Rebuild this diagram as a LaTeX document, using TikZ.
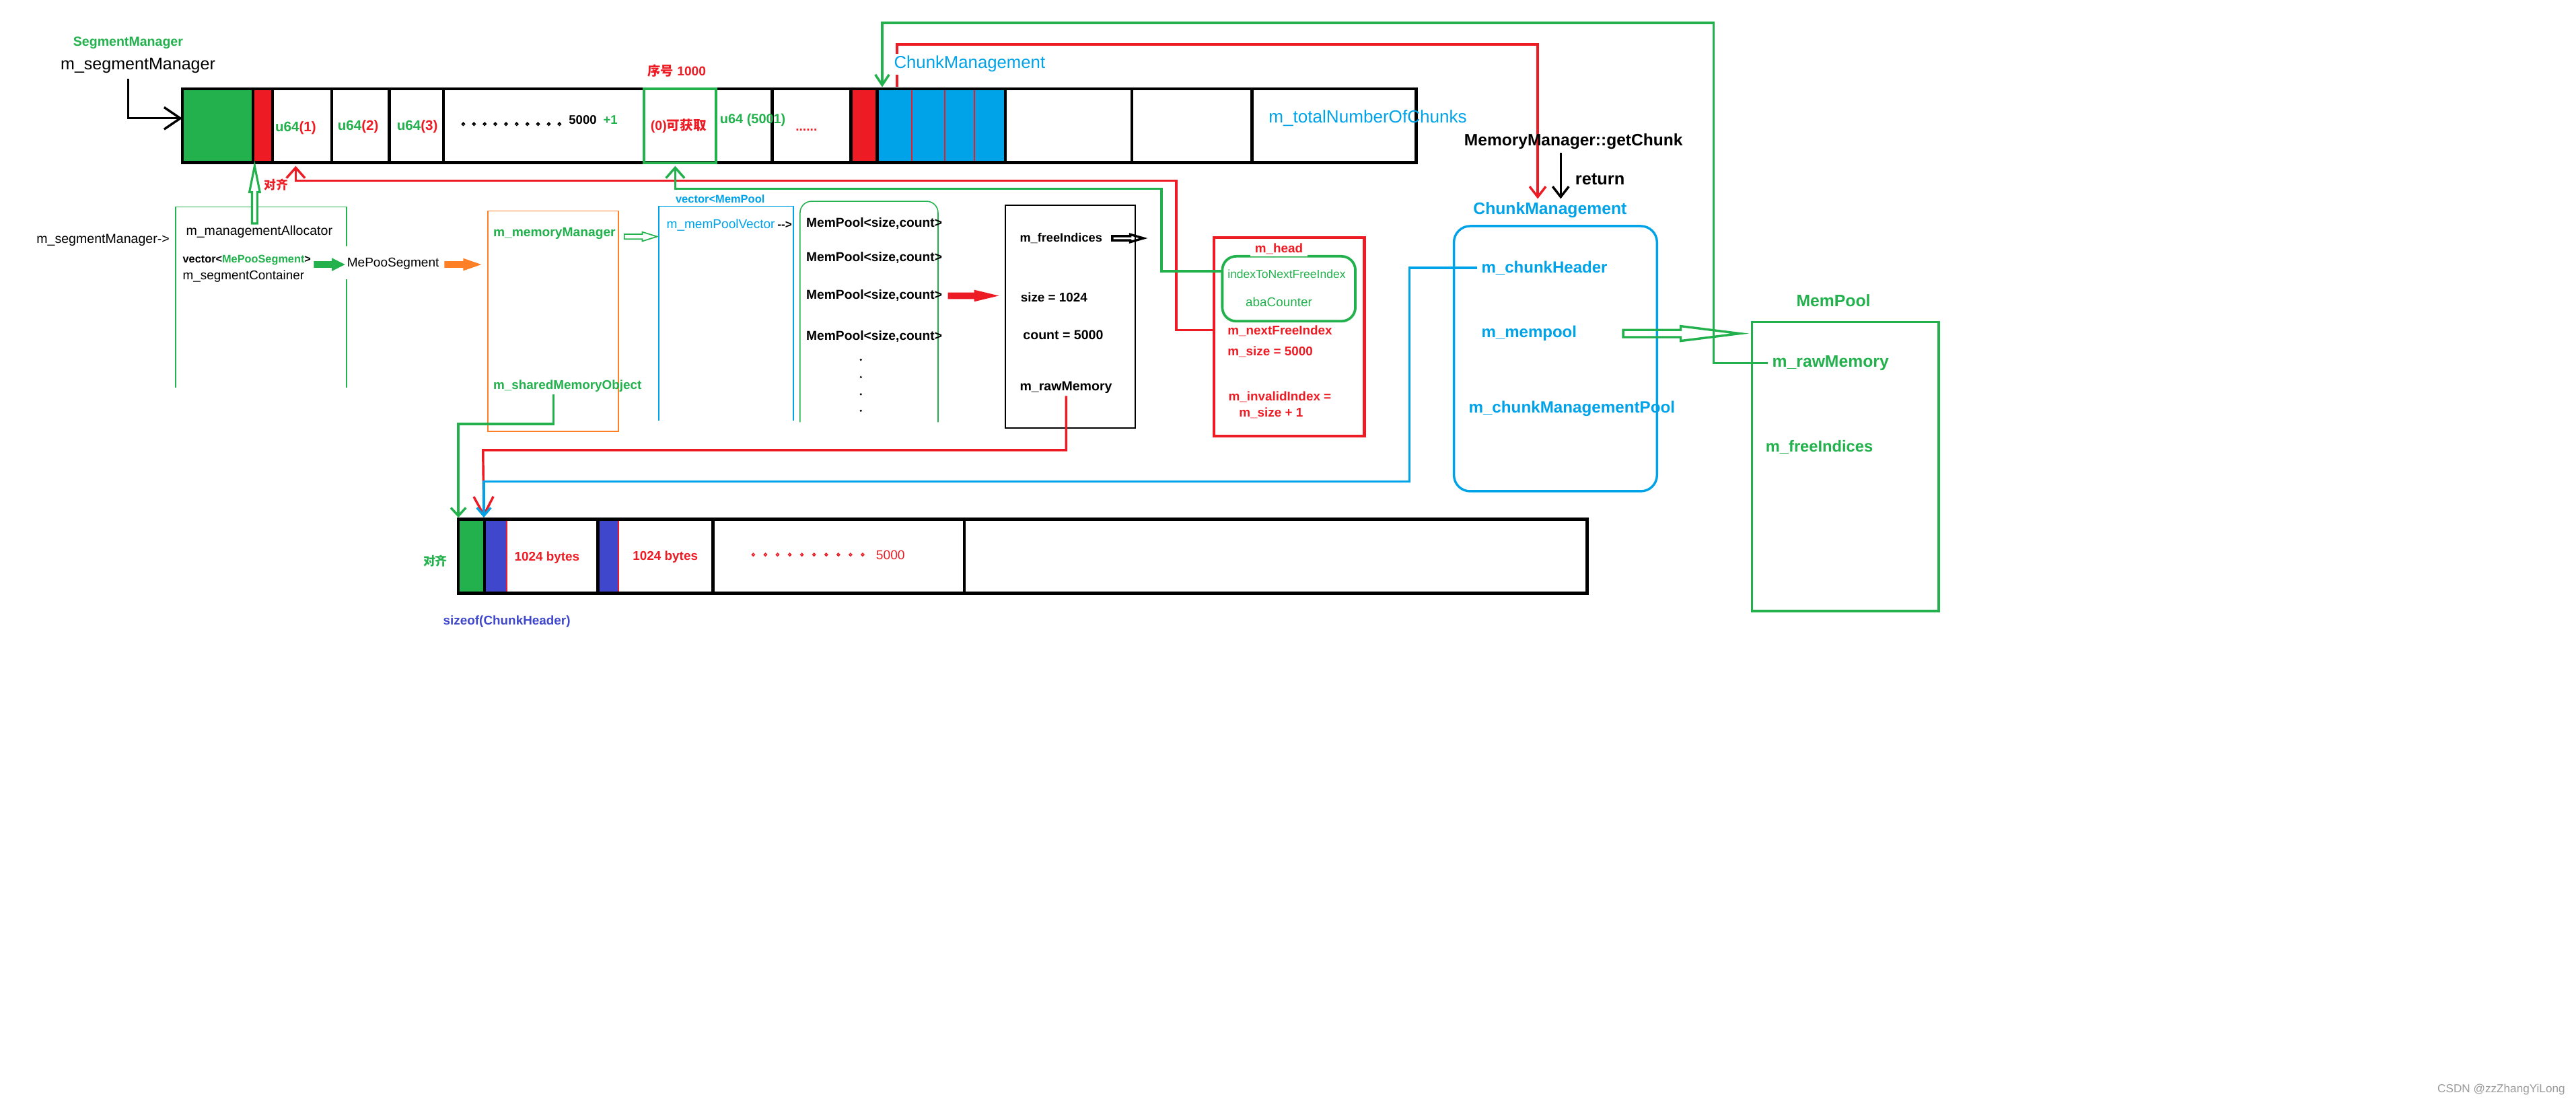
\documentclass[tikz,border=0pt]{standalone}
\usepackage{fontspec}
\setmainfont{Liberation Sans}
\newfontfamily\cjk{Noto Sans CJK SC}
\usetikzlibrary{arrows.meta}
\definecolor{grn}{HTML}{22B14C}
\definecolor{rd}{HTML}{ED1C24}
\definecolor{blu}{HTML}{00A2E8}
\definecolor{org}{HTML}{FF7F27}
\definecolor{ind}{HTML}{3F48CC}
\definecolor{wm}{HTML}{9A9A9A}
\tikzset{
  txt/.style={inner sep=0pt, font=\fontsize{#1}{#1}\selectfont},
  btxt/.style={inner sep=0pt, font=\fontsize{#1}{#1}\selectfont\bfseries},
  bar/.style={line width=1.3pt},
  conn/.style={line width=1pt},
  thinbox/.style={line width=.45pt},
  pics/fatarrow/.style args={#1/#2/#3/#4}{code={
    \path[pic actions] (0,-#2) -- ({#1-#4},-#2) -- ({#1-#4},-#3) -- (#1,0)
      -- ({#1-#4},#3) -- ({#1-#4},#2) -- (0,#2) -- cycle;}},
}
\begin{document}
\begin{tikzpicture}[x=0.025cm, y=-0.025cm]
  \fill[white] (0,0) rectangle (1568,671);
  \useasboundingbox (0,0) rectangle (1568,671);

  \fill[grn] (111,54) rectangle (154,99);
  \fill[rd] (154,54) rectangle (166,99);
  \fill[rd] (518,54) rectangle (534,99);
  \fill[blu] (534,54) rectangle (612,99);
  \foreach \x in {555,575,593} \draw[rd, line width=.5pt] (\x,54) -- (\x,100);
  \foreach \x in {154,166,202,237,270,470,518,534,612,689,762} \draw[bar] (\x,54) -- (\x,99);
  \draw[bar] (111,54) rectangle (862,99);
  \draw[grn, line width=1.2pt] (392,54) rectangle (436,99);

  \coordinate (barL) at (111,72);
  \coordinate (segS) at (78,48);
  \coordinate (c1) at (180,101);
  \coordinate (cfree) at (411,101);
  \coordinate (ccm) at (537,53);
  \coordinate (ccmr) at (546,53);
  \coordinate (cmtip) at (936,121);
  \coordinate (gcS) at (950,93);
  \coordinate (gcE) at (950,121);
  \coordinate (rawS) at (649,241);
  \coordinate (shmS) at (337,240);
  \coordinate (hdrL) at (739,201);
  \coordinate (bstart) at (279,315);
  \coordinate (bhdr) at (294.5,315);

  \draw[grn, thinbox] (107,236) -- (107,126) -- (211,126) -- (211,150) (211,170) -- (211,236);
  \draw[org, thinbox] (297,128.5) rectangle (376.5,262.5);
  \draw[blu, thinbox] (401,256) -- (401,125.5) -- (483,125.5) -- (483,256);
  \draw[grn, thinbox, rounded corners=5pt] (487,257) -- (487,122.5) -- (571,122.5) -- (571,257);
  \draw[thinbox] (612,125) rectangle (691,260.5);
  \draw[rd, line width=1.2pt] (739,144.6) rectangle (830.5,265.5);
  \draw[grn, line width=1.1pt, rounded corners=6pt] (744,156) rectangle (825,195.5);
  \draw[blu, line width=1pt, rounded corners=7pt] (885,137.6) rectangle (1008.6,299);
  \draw[grn, line width=1pt] (1066.5,196) rectangle (1180,372);

  \fill[grn] (279,316) rectangle (295,361);
  \fill[ind] (295,316) rectangle (308.5,361);
  \fill[ind] (364,316) rectangle (376.5,361);
  \foreach \x in {308.5,376.5} \draw[rd, line width=.5pt] (\x,316) -- (\x,361);
  \foreach \x in {295,364,434,587} \draw[bar] (\x,316) -- (\x,361);
  \draw[bar] (279,316) rectangle (966,361);

  \node[btxt=5.7, grn] (segtype) at (78,26) {SegmentManager};
  \node[txt=7.3] (segmgr) at (84,40) {m\_segmentManager};
  \node[btxt=6] (u1) at (180,78) {\textcolor{grn}{u64}\textcolor{rd}{(1)}};
  \node[btxt=6] (u2) at (218,77) {\textcolor{grn}{u64}\textcolor{rd}{(2)}};
  \node[btxt=6] (u3) at (254,77) {\textcolor{grn}{u64}\textcolor{rd}{(3)}};
  \foreach \i in {0,...,9} \draw[line width=.5pt] (282+6.5*\i,75.5) circle [radius=.8];
  \node[btxt=5.4, anchor=west] (top5000) at (346,73) {5000};
  \node[btxt=5.4, grn, anchor=west] (plus1) at (367,73) {+1};
  \node[btxt=5.7, rd] (avail) at (413,76.5) {(0){\cjk 可获取}};
  \node[btxt=5.6, rd] (seqno) at (412,43) {{\cjk 序号} 1000};
  \node[btxt=5.8, grn, anchor=west] (u5001) at (438,73) {u64 (5001)};
  \node[btxt=5.6, rd, anchor=west] (more) at (484,79) {......};
  \node[txt=7.6, blu, anchor=west] (total) at (772,72) {m\_totalNumberOfChunks};

  \draw[conn, -{Straight Barb[length=7pt,width=9.5pt]}] (segS) |- (barL);
  \draw[rd, conn, -{Straight Barb[length=4.5pt,width=8pt]}] (hdrL) -| (716,110) -| (c1);
  \draw[grn, conn, -{Straight Barb[length=4.5pt,width=8pt]}] (744,165) -| (707,115) -| (cfree);
  \draw[grn, conn, -{Straight Barb[length=4.5pt,width=6pt]}] (1076,221) -| (1043,14) -| (ccm);
  \draw[rd, conn, -{Straight Barb[length=4.5pt,width=7pt]}] (ccmr) |- (936,27) -- (cmtip);
  \draw[conn, -{Straight Barb[length=4.5pt,width=7pt]}] (gcS) -- (gcE);
  \draw[rd, conn, -{Straight Barb[length=8pt,width=8.5pt]}] (rawS) |- (294,274) -- (bhdr);
  \draw[blu, conn, -{Straight Barb[length=3.5pt,width=6pt]}] (899,163) -| (858,293) -| (bhdr);
  \draw[grn, conn, -{Straight Barb[length=3.5pt,width=6.5pt]}] (shmS) |- (279,258) -- (bstart);

  \pic[draw=grn, fill=white, line width=.9pt, rotate=90] at (155,136) {fatarrow=35/1.6/3.2/16};
  \pic[fill=grn] at (191,161) {fatarrow=19/2/4/8};
  \pic[fill=org] at (270.5,161) {fatarrow=22.5/2/3.8/11};
  \pic[draw=grn, fill=white, line width=.5pt] at (380,144) {fatarrow=20/1.5/2.8/9};
  \pic[fill=rd] at (577,180) {fatarrow=31/2/3.6/15};
  \pic[draw=black, line width=1pt] at (677,145) {fatarrow=19/1.3/2.3/8};
  \pic[draw=grn, line width=1pt] at (988,203) {fatarrow=71/2.2/4.5/36};

  \node[txt=7.5, blu, anchor=west, fill=white, inner sep=1pt] (cmtop) at (542.5,39) {ChunkManagement};
  \node[btxt=5.2, rd] (align1) at (168,112.5) {\cjk 对齐};

  \node[txt=5.7, anchor=west] (mgrptr) at (22,146) {m\_segmentManager->};
  \node[txt=5.7, anchor=west] (alloc) at (113,141) {m\_managementAllocator};
  \node[btxt=4.75, anchor=west] (vecseg) at (111,158.5) {vector<\textcolor{grn}{MePooSegment}>};
  \node[txt=5.5, anchor=west] (segcont) at (111,168) {m\_segmentContainer};
  \node[txt=5.55, anchor=west] (mepoo) at (211,160.5) {MePooSegment};
  \node[btxt=5.6, grn, anchor=west] (memmgr) at (300,142) {m\_memoryManager};
  \node[btxt=5.5, grn, anchor=west] (shmobj) at (300,235) {m\_sharedMemoryObject};
  \node[btxt=4.8, blu, anchor=west] (vecpool) at (411,121) {vector<MemPool};
  \node[txt=5.55, blu, anchor=west] (poolvec) at (405.5,137) {m\_memPoolVector};
  \node[btxt=5, anchor=west] (poolarr) at (473,137) {{-}{-}>};
  \foreach \y [count=\i] in {136,157,180,205}
    \node[btxt=5.6, anchor=west] (mp\i) at (490.5,\y) {MemPool<size,count>};
  \foreach \y in {219,229.5,240,250} \fill (524,\y) circle [radius=.7];
  \node[btxt=5.3, anchor=west] (freeidx) at (620.5,145) {m\_freeIndices};
  \node[btxt=5.5, anchor=west] (size) at (621,181) {size = 1024};
  \node[btxt=5.7, anchor=west] (count) at (622.5,204) {count = 5000};
  \node[btxt=5.7, anchor=west] (rawmem) at (620.5,236) {m\_rawMemory};

  \node[btxt=5.5, rd, fill=white, inner xsep=2pt, inner ysep=1pt] (mhead) at (778.5,151.5) {m\_head};
  \node[txt=5.1, grn, anchor=west] (nextptr) at (747,167) {indexToNextFreeIndex};
  \node[txt=5.5, grn, anchor=west] (aba) at (758,184) {abaCounter};
  \node[btxt=5.5, rd, anchor=west] (nextidx) at (747,201.5) {m\_nextFreeIndex};
  \node[btxt=5.5, rd, anchor=west] (msize) at (747,214) {m\_size = 5000};
  \node[btxt=5.5, rd, anchor=west] (invidx) at (747.5,241.5) {m\_invalidIndex =};
  \node[btxt=5.5, rd, anchor=west] (invsz) at (754,251.5) {m\_size + 1};

  \node[btxt=7.15, anchor=west] (getchunk) at (891,86) {MemoryManager::getChunk};
  \node[btxt=7.4, anchor=west] (ret) at (958.6,109) {return};
  \node[btxt=7.2, blu] (cmtitle) at (943.5,128) {ChunkManagement};
  \node[btxt=7, blu, anchor=west] (chdr) at (901.5,163) {m\_chunkHeader};
  \node[btxt=7, blu, anchor=west] (mempool) at (901.5,203) {m\_mempool};
  \node[btxt=7.05, blu, anchor=west] (cmpool) at (893.7,248.6) {m\_chunkManagementPool};

  \node[btxt=7.2, grn] (mptitle) at (1116,183) {MemPool};
  \node[btxt=7.2, grn, anchor=west] (mpraw) at (1078.5,221) {m\_rawMemory};
  \node[btxt=6.9, grn, anchor=west] (mpfree) at (1074.5,272) {m\_freeIndices};

  \node[btxt=5.5, rd] (bytes1) at (333,339.5) {1024 bytes};
  \node[btxt=5.5, rd] (bytes2) at (405,339) {1024 bytes};
  \foreach \i in {0,...,9} \draw[rd, line width=.45pt] (458.5+7.4*\i,337.6) circle [radius=.8];
  \node[txt=5.6, rd, anchor=west] (bot5000) at (533,338) {5000};
  \node[btxt=5.2, grn] (align2) at (265,341.5) {\cjk 对齐};
  \node[btxt=5.5, ind] (sizeof) at (308.5,378.5) {sizeof(ChunkHeader)};

  \node[txt=5, wm] (csdn) at (1522.5,663) {CSDN @zzZhangYiLong};
\end{tikzpicture}
\end{document}
